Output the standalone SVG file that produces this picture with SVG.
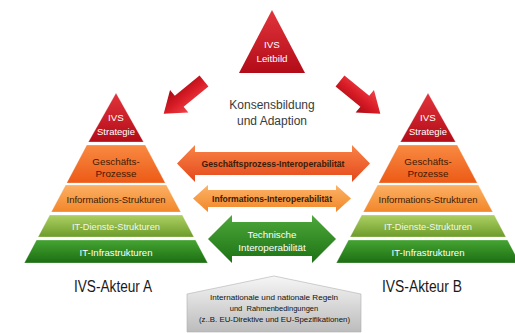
<svg xmlns="http://www.w3.org/2000/svg" width="515" height="333" viewBox="0 0 515 333">
<defs>
<linearGradient id="gRed" x1="0" y1="0" x2="0" y2="1"><stop offset="0" stop-color="#e2343c"/><stop offset="1" stop-color="#b20c18"/></linearGradient>
<linearGradient id="gRedArrow" x1="0" y1="0" x2="0" y2="1"><stop offset="0" stop-color="#f0424a"/><stop offset="0.5" stop-color="#d81c26"/><stop offset="1" stop-color="#a80a14"/></linearGradient>
<linearGradient id="gOr1" x1="0" y1="0" x2="0" y2="1"><stop offset="0" stop-color="#f98a42"/><stop offset="1" stop-color="#ec5a16"/></linearGradient>
<linearGradient id="gOr2" x1="0" y1="0" x2="0" y2="1"><stop offset="0" stop-color="#fcb064"/><stop offset="1" stop-color="#f2862a"/></linearGradient>
<linearGradient id="gOlive" x1="0" y1="0" x2="0" y2="1"><stop offset="0" stop-color="#aed064"/><stop offset="1" stop-color="#6c9c2a"/></linearGradient>
<linearGradient id="gGreen" x1="0" y1="0" x2="0" y2="1"><stop offset="0" stop-color="#45a432"/><stop offset="1" stop-color="#1c6e12"/></linearGradient>
<linearGradient id="gArr1" x1="0" y1="0" x2="0" y2="1"><stop offset="0" stop-color="#f98448"/><stop offset="1" stop-color="#e4481a"/></linearGradient>
<linearGradient id="gArr2" x1="0" y1="0" x2="0" y2="1"><stop offset="0" stop-color="#fcb468"/><stop offset="1" stop-color="#f18628"/></linearGradient>
<linearGradient id="gArr3" x1="0" y1="0" x2="0" y2="1"><stop offset="0" stop-color="#4ea83a"/><stop offset="1" stop-color="#1c7214"/></linearGradient>
<linearGradient id="gGray" x1="0" y1="0" x2="0" y2="1"><stop offset="0" stop-color="#f6f6f6"/><stop offset="1" stop-color="#bcbcbc"/></linearGradient>
<style>
text{font-family:"Liberation Sans",Arial,sans-serif;text-anchor:middle}
.lbl{font-size:9.8px}
.w{fill:#ffffff}
.d{fill:#3a1c06}
.big{font-size:16px;fill:#1a1a1a}
.mid{font-size:12px;fill:#3a3a3a}
.sm{font-size:7.5px;fill:#111111}
.edge{stroke:#ffffff;stroke-opacity:0.35;stroke-width:0.8}
</style>
</defs>
<rect width="515" height="333" fill="#ffffff"/>

<g id="leitbild">
<polygon points="272,10 305,73 239,73" fill="url(#gRed)"/>
<text class="lbl w" x="272" y="48">IVS</text>
<text class="lbl w" x="272" y="62">Leitbild</text>
</g>

<g id="pyramid-a">
<g id="a-strategie"><polygon class="edge" points="116,93 143.6,142 88.4,142" fill="url(#gRed)"/>
<text class="lbl w" x="116" y="121">IVS</text><text class="lbl w" x="116" y="135" textLength="38" lengthAdjust="spacingAndGlyphs">Strategie</text></g>
<g id="a-prozesse"><polygon class="edge" points="86.8,145 145.2,145 165.3,183 66.7,183" fill="url(#gOr1)"/>
<text class="lbl d" x="116" y="165">Geschäfts-</text><text class="lbl d" x="116" y="177">Prozesse</text></g>
<g id="a-info"><polygon class="edge" points="65.6,185 166.4,185 180.7,212 51.3,212" fill="url(#gOr2)"/>
<text class="lbl d" x="116" y="203" textLength="99" lengthAdjust="spacingAndGlyphs">Informations-Strukturen</text></g>
<g id="a-dienste"><polygon class="edge" points="49.7,215 182.3,215 193.9,237 38.1,237" fill="url(#gOlive)"/>
<text class="lbl" fill="#f4f6ea" x="116" y="230" textLength="88" lengthAdjust="spacingAndGlyphs">IT-Dienste-Strukturen</text></g>
<g id="a-infra"><polygon class="edge" points="36.5,240 195.5,240 207.7,263 24.3,263" fill="url(#gGreen)"/>
<text class="lbl w" x="116" y="256" textLength="73" lengthAdjust="spacingAndGlyphs">IT-Infrastrukturen</text></g>
<text class="big" x="113" y="292" textLength="78" lengthAdjust="spacingAndGlyphs">IVS-Akteur A</text>
</g>

<g id="pyramid-b" transform="translate(312,0)">
<g id="b-strategie"><polygon class="edge" points="116,93 143.6,142 88.4,142" fill="url(#gRed)"/>
<text class="lbl w" x="116" y="121">IVS</text><text class="lbl w" x="116" y="135" textLength="38" lengthAdjust="spacingAndGlyphs">Strategie</text></g>
<g id="b-prozesse"><polygon class="edge" points="86.8,145 145.2,145 165.3,183 66.7,183" fill="url(#gOr1)"/>
<text class="lbl d" x="116" y="165">Geschäfts-</text><text class="lbl d" x="116" y="177">Prozesse</text></g>
<g id="b-info"><polygon class="edge" points="65.6,185 166.4,185 180.7,212 51.3,212" fill="url(#gOr2)"/>
<text class="lbl d" x="116" y="203" textLength="99" lengthAdjust="spacingAndGlyphs">Informations-Strukturen</text></g>
<g id="b-dienste"><polygon class="edge" points="49.7,215 182.3,215 193.9,237 38.1,237" fill="url(#gOlive)"/>
<text class="lbl" fill="#f4f6ea" x="116" y="230" textLength="88" lengthAdjust="spacingAndGlyphs">IT-Dienste-Strukturen</text></g>
<g id="b-infra"><polygon class="edge" points="36.5,240 195.5,240 207.7,263 24.3,263" fill="url(#gGreen)"/>
<text class="lbl w" x="116" y="256" textLength="73" lengthAdjust="spacingAndGlyphs">IT-Infrastrukturen</text></g>
<text class="big" x="110" y="292" textLength="80" lengthAdjust="spacingAndGlyphs">IVS-Akteur B</text>
</g>

<g id="konsens">
<text class="mid" x="272" y="109">Konsensbildung</text>
<text class="mid" x="272" y="125">und Adaption</text>
</g>

<g id="connectors">
<polygon transform="translate(204,81) rotate(140.8)" points="0,-7 32,-7 32,-14.5 52,0 32,14.5 32,7 0,7" fill="url(#gRedArrow)"/>
<polygon transform="translate(340,81) rotate(39.2)" points="0,-7 32,-7 32,-14.5 52,0 32,14.5 32,7 0,7" fill="url(#gRedArrow)"/>
<g id="arrow-geschaeft">
<polygon points="177,163.5 195,145 195,152 352,152 352,145 370,163.5 352,182 352,175 195,175 195,182" fill="url(#gArr1)"/>
<text class="lbl d" x="273" y="167" font-weight="bold" textLength="143" lengthAdjust="spacingAndGlyphs">Geschäftsprozess-Interoperabilität</text>
</g>
<g id="arrow-info">
<polygon points="193,198.5 208,185 208,190 336,190 336,185 351,198.5 336,212 336,207 208,207 208,212" fill="url(#gArr2)"/>
<text class="lbl d" x="272" y="202" font-weight="bold" textLength="120" lengthAdjust="spacingAndGlyphs">Informations-Interoperabilität</text>
</g>
<g id="arrow-tech">
<polygon points="208,239 232,215 232,222 312,222 312,215 336,239 312,263 312,256 232,256 232,263" fill="url(#gArr3)"/>
<text class="lbl w" x="272" y="238">Technische</text>
<text class="lbl w" x="272" y="251">Interoperabilität</text>
</g>
</g>

<g id="regeln">
<polygon points="187,294 274,276 361,294 361,332 187,332" fill="url(#gGray)" stroke="#b0b0b0" stroke-width="0.6"/>
<text class="sm" x="274" y="300" textLength="128" lengthAdjust="spacingAndGlyphs">Internationale und nationale Regeln</text>
<text class="sm" x="274" y="311" xml:space="preserve">und  Rahmenbedingungen</text>
<text class="sm" x="274.5" y="322" textLength="151" lengthAdjust="spacingAndGlyphs">(z..B. EU-Direktive und EU-Spezifikationen)</text>
</g>
</svg>
